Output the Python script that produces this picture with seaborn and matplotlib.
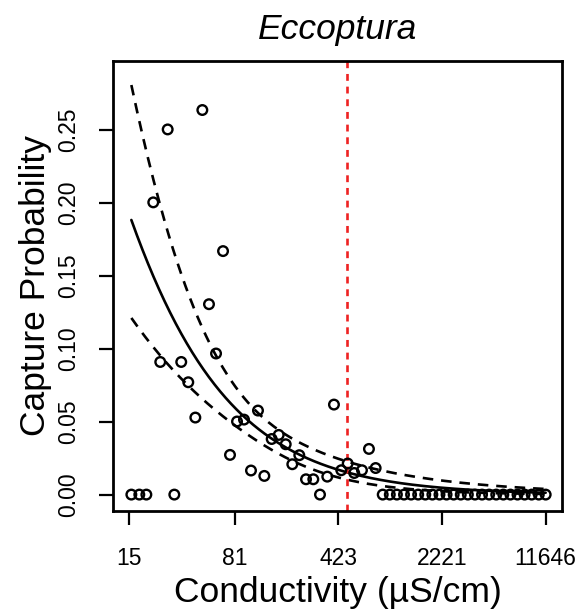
import numpy as np
import pandas as pd
import matplotlib
matplotlib.use("Agg")
import matplotlib.pyplot as plt
import seaborn as sns

# ---------------- data ----------------
conductivity = [15.5, 17.6, 19.7, 30.8,
                22.0, 27.7, 48.2, 67.1, 53.6, 60.0, 24.6, 34.4, 38.5, 43.1,
                117.3, 83.9, 93.8, 75.0, 104.9, 129.8, 146.0, 163.4, 182.7,
                227.0, 203.0, 252.7, 284.0, 316.0, 355.0, 395.0, 444.0,
                492.0, 546.0, 618.0, 691.0, 769.0,
                861, 964, 1080, 1210, 1355, 1518, 1700, 1904, 2133, 2389,
                2676, 2997, 3357, 3760, 4211, 4717, 5283, 5918, 6628, 7424,
                8315, 9313, 10432, 11646]
capture_prob = [0.0, 0.0, 0.0, 0.0,
                0.2003, 0.2503, 0.2636, 0.1669, 0.1305, 0.0967, 0.0909, 0.0909, 0.0770, 0.0528,
                0.0576, 0.0501, 0.0514, 0.0272, 0.0165, 0.0128, 0.0381, 0.0409, 0.0345,
                0.0270, 0.0208, 0.0105, 0.0105, 0.0, 0.0123, 0.0617, 0.0167,
                0.0213, 0.0148, 0.0167, 0.0313, 0.0182,
                0, 0, 0, 0, 0, 0, 0, 0, 0, 0,
                0, 0, 0, 0, 0, 0, 0, 0, 0, 0,
                0, 0, 0, 0]

# logistic fit on log(conductivity): intercept, slope and their covariance
fit_coef = [0.69, -0.785]
fit_vcov = [[0.3333, -0.06733], [-0.06733, 0.01416]]
threshold = 489

xtick_values = [15, 81, 423, 2221, 11646]
xtick_labels = ["15", "81", "423", "2221", "11646"]
ytick_values = [0.00, 0.05, 0.10, 0.15, 0.20, 0.25]
ytick_labels = ["0.00", "0.05", "0.10", "0.15", "0.20", "0.25"]

# ---------------- model curve ----------------
lx = np.linspace(np.log(min(conductivity)), np.log(max(conductivity)), 300)
eta = fit_coef[0] + fit_coef[1] * lx
se = np.sqrt(fit_vcov[0][0] + 2 * fit_vcov[0][1] * lx + fit_vcov[1][1] * lx ** 2)
expit = lambda z: 1.0 / (1.0 + np.exp(-z))
curve = pd.DataFrame({"x": np.exp(lx), "fit": expit(eta),
                      "lo": expit(eta - 1.96 * se), "hi": expit(eta + 1.96 * se)})
pts = pd.DataFrame({"x": conductivity, "y": capture_prob})

# ---------------- plot ----------------
sns.set_theme(style="white")
plt.rcParams["font.family"] = ["Liberation Sans", "DejaVu Sans"]

fig = plt.figure(figsize=(5.82, 6.10), dpi=100)
ax = fig.add_axes([113 / 582, 1 - 511 / 610, 449 / 582, 450 / 610])

sns.lineplot(data=curve, x="x", y="fit", color="black", lw=1.9, ax=ax)
sns.lineplot(data=curve, x="x", y="hi", color="black", lw=1.9,
             linestyle=(0, (4, 3)), ax=ax)
sns.lineplot(data=curve, x="x", y="lo", color="black", lw=1.9,
             linestyle=(0, (4, 3)), ax=ax)
ax.axvline(threshold, color="#EE2222", lw=1.9, linestyle=(0, (2.6, 2.2)))

sns.scatterplot(data=pts, x="x", y="y", marker="o", s=48, ax=ax,
                zorder=3)
sc = ax.collections[-1]
sc.set_facecolor("none")
sc.set_edgecolor("black")
sc.set_linewidth(1.7)

ax.set_xscale("log")
ax.set_xlim(np.exp(2.4475), np.exp(9.6235))
ax.set_ylim(-0.01125, 0.2972)
ax.set_xticks(xtick_values)
ax.set_xticklabels(xtick_labels)
ax.xaxis.set_minor_locator(matplotlib.ticker.NullLocator())
ax.set_yticks(ytick_values)
ax.set_yticklabels(ytick_labels, rotation=90, va="center")

for s in ax.spines.values():
    s.set_color("black")
    s.set_linewidth(2.0)

ax.tick_params(axis="both", which="major", direction="out", length=10,
               width=1.6, color="black", labelsize=16.5, labelcolor="black",
               bottom=True, left=True)
ax.tick_params(axis="x", pad=16)
ax.tick_params(axis="y", pad=14)

ax.set_xlabel("Conductivity (µS/cm)", fontsize=25.5, labelpad=4, color="black")
ax.set_ylabel("Capture Probability", fontsize=25.5, labelpad=3, color="black")
ax.set_title("Eccoptura", fontsize=25.5, style="italic", pad=16, color="black")

fig.savefig("out.png", dpi=100, facecolor="white")
